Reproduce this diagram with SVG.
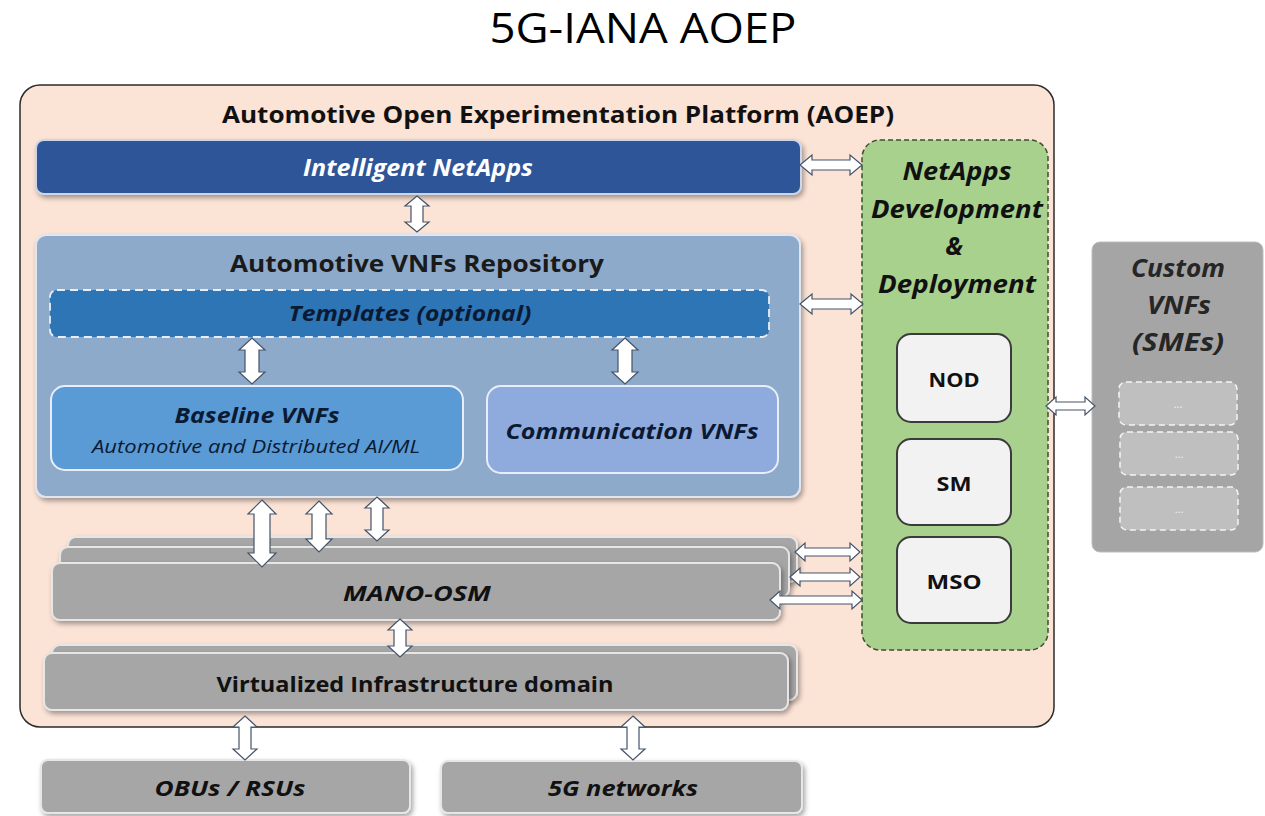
<svg xmlns="http://www.w3.org/2000/svg" width="1265" height="816" viewBox="0 0 1265 816">
<defs>
<filter id="sh" x="-5%" y="-10%" width="110%" height="130%">
<feDropShadow dx="2" dy="3" stdDeviation="2.5" flood-color="#000" flood-opacity="0.35"/>
</filter>
<style>
text{font-family:"Open Sans","Noto Sans","Liberation Sans",sans-serif;text-anchor:middle}
.b{font-weight:bold}
.i{font-style:italic}
.arr{fill:#ffffff;stroke:#44546a;stroke-width:1.2;stroke-linejoin:miter}
.gray{fill:#a6a6a6;stroke:#e6e6e6;stroke-width:2}
.sub{fill:#f2f2f2;stroke:#3b3b3b;stroke-width:2}
.ell{fill:#bfbfbf;stroke:#f5f5f5;stroke-width:1.5;stroke-dasharray:6 4}
</style>
</defs>
<rect width="1265" height="816" fill="#ffffff"/>
<text x="643" y="43" font-size="42" fill="#000" textLength="307" lengthAdjust="spacingAndGlyphs">5G-IANA AOEP</text>

<g id="aoep">
<rect x="20" y="85" width="1034" height="642" rx="20" fill="#fbe3d6" stroke="#2b2b2b" stroke-width="1.5"/>
<text class="b" x="558" y="123" font-size="24" fill="#111" textLength="672" lengthAdjust="spacingAndGlyphs">Automotive Open Experimentation Platform (AOEP)</text>
</g>

<g id="intelligent-netapps">
<rect x="36" y="140" width="765" height="54" rx="8" fill="#2f5597" stroke="#cdd6e8" stroke-width="2" filter="url(#sh)"/>
<text class="b i" x="418" y="176" font-size="23" fill="#ffffff" textLength="230" lengthAdjust="spacingAndGlyphs">Intelligent NetApps</text>
</g>

<g id="repository">
<rect x="36" y="235" width="764" height="262" rx="10" fill="#8eaacb" stroke="#dfe6ef" stroke-width="2" filter="url(#sh)"/>
<text class="b" x="417" y="272" font-size="24" fill="#1a1a1a" textLength="374" lengthAdjust="spacingAndGlyphs">Automotive VNFs Repository</text>
</g>

<g id="templates">
<rect x="50" y="290" width="719" height="47" rx="7" fill="#2e75b6" stroke="#e8eef7" stroke-width="1.8" stroke-dasharray="8 5"/>
<text class="b i" x="410" y="321" font-size="22" fill="#0b1a33" textLength="243" lengthAdjust="spacingAndGlyphs">Templates (optional)</text>
</g>

<g id="baseline-vnfs">
<rect x="51" y="386" width="412" height="84" rx="14" fill="#5b9bd5" stroke="#e8eef7" stroke-width="2"/>
<text class="b i" x="257" y="423" font-size="22" fill="#0b1a33" textLength="165" lengthAdjust="spacingAndGlyphs">Baseline VNFs</text>
<text class="i" x="256" y="453" font-size="19" fill="#0b1a33" textLength="328" lengthAdjust="spacingAndGlyphs">Automotive and Distributed AI/ML</text>
</g>

<g id="communication-vnfs">
<rect x="487" y="386" width="291" height="87" rx="14" fill="#8faadc" stroke="#e8eef7" stroke-width="2"/>
<text class="b i" x="632" y="439" font-size="22" fill="#0b1a33" textLength="253" lengthAdjust="spacingAndGlyphs">Communication VNFs</text>
</g>

<g id="mano-osm">
<rect class="gray" x="68" y="537" width="729" height="45" rx="8" filter="url(#sh)"/>
<rect class="gray" x="60" y="547" width="729" height="50" rx="8" filter="url(#sh)"/>
<rect class="gray" x="52" y="563" width="728" height="57" rx="8" filter="url(#sh)"/>
<text class="b i" x="417" y="601" font-size="22" fill="#111" textLength="148" lengthAdjust="spacingAndGlyphs">MANO-OSM</text>
</g>

<g id="virtualized-infrastructure">
<rect class="gray" x="52" y="645" width="745" height="55" rx="8" filter="url(#sh)"/>
<rect class="gray" x="44" y="653" width="744" height="57" rx="8" filter="url(#sh)"/>
<text class="b" x="415" y="692" font-size="22" fill="#111" textLength="397" lengthAdjust="spacingAndGlyphs">Virtualized Infrastructure domain</text>
</g>

<g id="obus-rsus">
<rect class="gray" x="41" y="760" width="369" height="53" rx="7" filter="url(#sh)"/>
<text class="b i" x="230" y="796" font-size="22" fill="#111" textLength="151" lengthAdjust="spacingAndGlyphs">OBUs / RSUs</text>
</g>

<g id="5g-networks">
<rect class="gray" x="441" y="761" width="361" height="52" rx="7" filter="url(#sh)"/>
<text class="b i" x="623" y="796" font-size="22" fill="#111" textLength="150" lengthAdjust="spacingAndGlyphs">5G networks</text>
</g>

<g id="netapps-dev">
<rect x="862" y="140" width="186" height="510" rx="18" fill="#a9d18e" stroke="#3d4f33" stroke-width="1.5" stroke-dasharray="5 3"/>
<text class="b i" x="957" y="180" font-size="25" fill="#111" textLength="109" lengthAdjust="spacingAndGlyphs">NetApps</text>
<text class="b i" x="957" y="218" font-size="25" fill="#111" textLength="172" lengthAdjust="spacingAndGlyphs">Development</text>
<text class="b i" x="954" y="255" font-size="25" fill="#111">&amp;</text>
<text class="b i" x="957" y="293" font-size="25" fill="#111" textLength="158" lengthAdjust="spacingAndGlyphs">Deployment</text>
</g>

<g id="nod">
<rect class="sub" x="897" y="334" width="114" height="88" rx="14"/>
<text class="b" x="954" y="387" font-size="20" fill="#111" textLength="51" lengthAdjust="spacingAndGlyphs">NOD</text>
</g>
<g id="sm">
<rect class="sub" x="897" y="439" width="114" height="86" rx="14"/>
<text class="b" x="954" y="491" font-size="20" fill="#111" textLength="35" lengthAdjust="spacingAndGlyphs">SM</text>
</g>
<g id="mso">
<rect class="sub" x="897" y="537" width="114" height="86" rx="14"/>
<text class="b" x="954" y="589" font-size="20" fill="#111" textLength="55" lengthAdjust="spacingAndGlyphs">MSO</text>
</g>

<g id="custom-vnfs">
<rect x="1092" y="242" width="171" height="310" rx="8" fill="#a5a5a5" stroke="#bdbdbd" stroke-width="1"/>
<text class="b i" x="1178" y="277" font-size="25" fill="#262626" textLength="94" lengthAdjust="spacingAndGlyphs">Custom</text>
<text class="b i" x="1179" y="314" font-size="25" fill="#262626" textLength="64" lengthAdjust="spacingAndGlyphs">VNFs</text>
<text class="b i" x="1178" y="351" font-size="25" fill="#262626" textLength="92" lengthAdjust="spacingAndGlyphs">(SMEs)</text>
<rect class="ell" x="1119" y="382" width="118" height="43" rx="7"/>
<text x="1178" y="408" font-size="11" fill="#f0f0f0">...</text>
<rect class="ell" x="1120" y="432" width="118" height="43" rx="7"/>
<text x="1179" y="458" font-size="11" fill="#f0f0f0">...</text>
<rect class="ell" x="1120" y="487" width="118" height="43" rx="7"/>
<text x="1179" y="513" font-size="11" fill="#f0f0f0">...</text>
</g>

<g id="connectors">
<polygon class="arr" points="417,196 429,206 423,206 423,222 429,222 417,232 405,222 411,222 411,206 405,206"/>
<polygon class="arr" points="252,338 265,350 259,350 259,372 265,372 252,384 239,372 245,372 245,350 239,350"/>
<polygon class="arr" points="625,338 638,350 632,350 632,372 638,372 625,384 612,372 618,372 618,350 612,350"/>
<polygon class="arr" points="262,500 276,514 270,514 270,553 276,553 262,567 248,553 254,553 254,514 248,514"/>
<polygon class="arr" points="319,501 332,514 326,514 326,539 332,539 319,552 306,539 312,539 312,514 306,514"/>
<polygon class="arr" points="377,497 389,508 383,508 383,530 389,530 377,541 365,530 371,530 371,508 365,508"/>
<polygon class="arr" points="400,619 412,630 406,630 406,646 412,646 400,657 388,646 394,646 394,630 388,630"/>
<polygon class="arr" points="245,716 257,727 251,727 251,749 257,749 245,760 233,749 239,749 239,727 233,727"/>
<polygon class="arr" points="633,716 645,727 639,727 639,749 645,749 633,760 621,749 627,749 627,727 621,727"/>
<polygon class="arr" points="800,165 812,155 812,160 850,160 850,155 862,165 850,175 850,170 812,170 812,175"/>
<polygon class="arr" points="800,304 812,294 812,299 851,299 851,294 863,304 851,314 851,309 812,309 812,314"/>
<polygon class="arr" points="795,552 805,543 805,548 850,548 850,543 860,552 850,561 850,556 805,556 805,561"/>
<polygon class="arr" points="790,577 800,568 800,573 850,573 850,568 860,577 850,586 850,581 800,581 800,586"/>
<polygon class="arr" points="770,600 780,591 780,596 852,596 852,591 862,600 852,609 852,604 780,604 780,609"/>
<polygon class="arr" points="1046,406 1056,397 1056,402 1085,402 1085,397 1095,406 1085,415 1085,410 1056,410 1056,415"/>
</g>
</svg>
